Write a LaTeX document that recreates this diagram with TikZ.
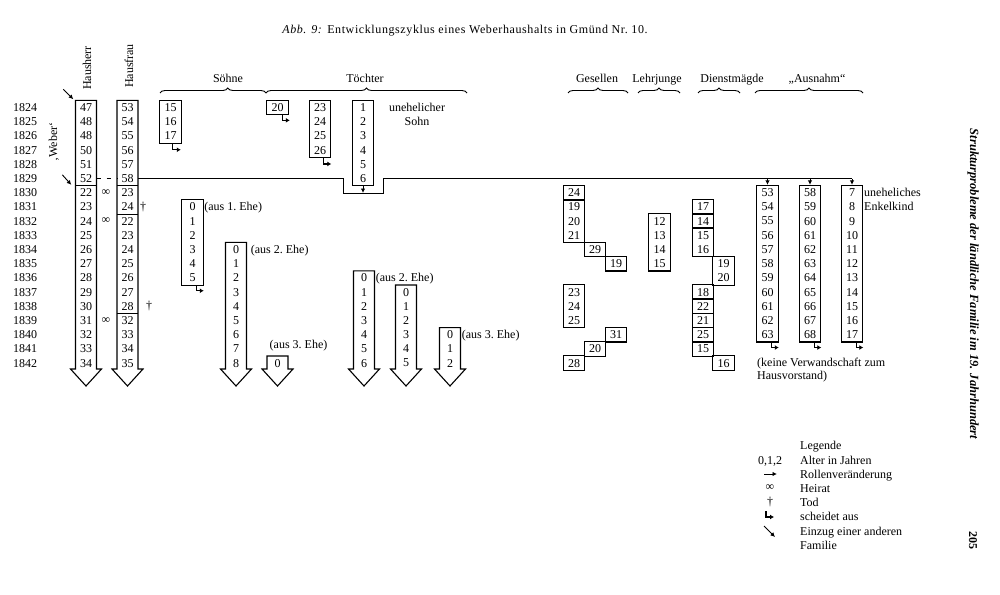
\documentclass[tikz,border=0pt]{standalone}
\usepackage{fontspec}
\setmainfont{Liberation Serif}
\usetikzlibrary{arrows.meta,calc,fit,decorations.pathreplacing}

% vertical position of the row of a year
\pgfmathdeclarefunction{yr}{1}{\pgfmathparse{107.5+14.2*(#1-1824)}}

% ages stacked in a closed box: name, x, first year, ages
\newcommand{\agebox}[4]{%
  \foreach \a [count=\k] in {#4}{%
    \node[age] (#1-\k) at (#2,{yr(#3+\k-1)}) {\a};
    \xdef\lastk{\k}}%
  \node[box, fit=(#1-1)(#1-\lastk)] (#1) {};}

% ages in an open column that runs on as an arrow
\newcommand{\agearrow}[4]{%
  \foreach \a [count=\k] in {#4}
    \node[age] (#1-\k) at (#2,{yr(#3+\k-1)}) {\a};
  \draw[col] ({#2-10.5},{yr(#3)-7.1}) -- ({#2-10.5},369) -- ({#2-15.5},369)
    -- (#2,386) -- ({#2+15.5},369) -- ({#2+10.5},369)
    -- ({#2+10.5},{yr(#3)-7.1}) -- cycle;}

\begin{document}
\begin{tikzpicture}[x=1pt, y=-1pt,
    font=\fontsize{12}{14.2}\selectfont,
    age/.style={minimum width=21pt, minimum height=14.2pt, inner sep=0pt},
    box/.style={draw, line width=1.1pt, inner sep=0pt},
    col/.style={line width=1.1pt},
    note/.style={anchor=base west, inner sep=0pt},
    head/.style={anchor=base, inner sep=0pt},
    group/.style={decorate, decoration={brace, amplitude=5pt}, line width=0.9pt},
    move/.style={-{Latex[length=4.5pt, width=4.5pt]}, line width=0.9pt},
    leave/.style={-{Latex[length=4pt, width=5pt]}, line width=1.1pt}
]
\useasboundingbox (0,0) rectangle (1000,594);

\node[head] (title) at (465,34) {\addfontfeature{LetterSpace=5}\textit{Abb. 9:} Entwicklungszyklus eines Weberhaushalts in Gmünd Nr.~10.};

% years
\foreach \y in {1824,...,1842}
  \node (y\y) at (25,{yr(\y)}) {\y};

% heads of household
\node[rotate=90] (hhlabel) at (87,68) {Hausherr};
\node[rotate=90] (hflabel) at (129,66) {Hausfrau};
\node[rotate=90] (weber) at (54,142) {‚Weber‘};

\agearrow{hh}{86}{1824}{47,48,48,50,51,52,22,23,24,25,26,27,28,29,30,31,32,33,34}
\agearrow{hf}{127.5}{1824}{53,54,55,56,57,58,23,24,22,23,24,25,26,27,28,32,33,34,35}
\draw[col] (hh-6.south west) -- (hh-6.south east);
\draw[col] (hf-6.south west) -- (hf-6.south east);
\draw[col] (hf-8.south west) -- (hf-8.south east);
\draw[col] (hf-15.south west) -- (hf-15.south east);

\node (m1) at (106,{yr(1830)}) {∞};
\node (m2) at (106,{yr(1832)}) {∞};
\node (m3) at (106,{yr(1839)}) {∞};
\node (d1) at (143,{yr(1831)}) {†};
\node (d2) at (149,{yr(1838)}) {†};

\draw[move] ($(hh-1.north west)+(-12,-11)$) -- ($(hh-1.north west)+(-2,-1)$);
\draw[move] ($(hh-6.south west)+(-13,-11)$) -- ($(hh-6.south west)+(-4,-1)$);

% sons and daughters
\node[head] (soehne) at (228,82) {Söhne};
\node[head] (toechter) at (365,82) {Töchter};
\draw[group, decoration={aspect=0.64}] (160,93) -- (266,93);
\draw[group] (266,93) -- (467,93);

\agebox{s1}{170.5}{1824}{15,16,17}
\agebox{t1}{277.5}{1824}{20}
\agebox{t2}{320}{1824}{23,24,25,26}
\agebox{t3}{363}{1824}{1,2,3,4,5,6}
\node[head] (t3a) at (417,{yr(1824)+4}) {unehelicher};
\node[head] (t3b) at (417,{yr(1825)+4}) {Sohn};

\agebox{s2}{192.5}{1831}{0,1,2,3,4,5}
\node[note] (s2n) at ($(s2-1.east)+(1,4)$) {(aus 1.~Ehe)};
\agearrow{s3}{236}{1834}{0,1,2,3,4,5,6,7,8}
\node[note] (s3n) at ($(s3-1.east)+(4,4)$) {(aus 2.~Ehe)};
\agearrow{s4}{277.5}{1842}{0}
\node[head] (s4n) at ($(s4-1.north)+(21,-7)$) {(aus 3.~Ehe)};

\agearrow{t4}{364}{1836}{0,1,2,3,4,5,6}
\node[note] (t4n) at ($(t4-1.east)+(1,4)$) {(aus 2.~Ehe)};
\agearrow{t5}{406}{1837}{0,1,2,3,4,5}
\agearrow{t6}{450}{1840}{0,1,2}
\node[note] (t6n) at ($(t6-1.east)+(1,4)$) {(aus 3.~Ehe)};

\draw[leave] ($(s1.south east)+(-9,0)$) |- ++(8,6);
\draw[leave] ($(t1.south east)+(-6,0)$) |- ++(7,5);
\draw[leave] ($(t2.south east)+(-8,0)$) |- ++(8,6);
\draw[leave] ($(s2.south east)+(-7,0)$) |- ++(7,5);

% servants
\node[head] (gesellen) at (597,82) {Gesellen};
\node[head] (lehrjunge) at (657,82) {Lehrjunge};
\node[head] (maegde) at (732,82) {Dienstmägde};
\node[head] (ausnahm) at (817,82) {„Ausnahm“};
\draw[group] (568,93) -- (628,93);
\draw[group] (638,93) -- (680,93);
\draw[group] (698,93) -- (740,93);
\draw[group, decoration={aspect=0.5}] (755,93) -- (863,93);

\agebox{g1}{574}{1830}{24}
\agebox{g2}{574}{1831}{19,20,21}
\agebox{g3}{595}{1834}{29}
\agebox{g4}{616}{1835}{19}
\agebox{g5}{574}{1837}{23,24,25}
\agebox{g6}{616}{1840}{31}
\agebox{g7}{595}{1841}{20}
\agebox{g8}{574}{1842}{28}

\agebox{l1}{659.5}{1832}{12,13,14,15}

\agebox{d1}{703}{1831}{17}
\agebox{d2}{703}{1832}{14}
\agebox{d3}{703}{1833}{15,16}
\agebox{d4}{723.5}{1835}{19,20}
\agebox{d5}{703}{1837}{18}
\agebox{d6}{703}{1838}{22}
\agebox{d7}{703}{1839}{21}
\agebox{d8}{703}{1840}{25}
\agebox{d9}{703}{1841}{15}
\agebox{d10}{723.5}{1842}{16}

% retired parents and grandchild
\agebox{a1}{767.5}{1830}{53,54,55,56,57,58,59,60,61,62,63}
\agebox{a2}{810}{1830}{58,59,60,61,62,63,64,65,66,67,68}
\agebox{a3}{852}{1830}{7,8,9,10,11,12,13,14,15,16,17}
\node[note] (a3a) at (864,{yr(1830)+4}) {uneheliches};
\node[note] (a3b) at (864,{yr(1831)+4}) {Enkelkind};
\node[note] (a1a) at (757,366) {(keine Verwandschaft zum};
\node[note] (a1b) at (757,379) {Hausvorstand)};
\draw[leave] ($(a1.south east)+(-7,0)$) |- ++(7,5);
\draw[leave] ($(a2.south east)+(-7,0)$) |- ++(7,5);
\draw[leave] ($(a3.south east)+(-7,0)$) |- ++(7,5);

% change of roles in 1829/30
\coordinate (dipL) at (343,193);
\coordinate (dipR) at (383,193);
\draw[dashed, dash pattern=on 4pt off 6pt, line width=0.9pt] (hh-6.east) -- (hf-6.west);
\draw[line width=0.9pt] (hf-6.east) -| (dipL) -- (dipR) |- (a3.north |- hf-6.east);
\draw[move] (t3.south) -- (t3.south |- dipL);
\draw[move] (a1.north |- hf-6.east) -- (a1.north);
\draw[move] (a2.north |- hf-6.east) -- (a2.north);
\draw[move] (a3.north |- hf-6.east) -- (a3.north);

% legend
\node[note] (leg) at (800,449) {Legende};
\node[head] (k1) at (770,464) {0,1,2};
\node[note] (k1t) at (800,464) {Alter in Jahren};
\coordinate (k2a) at (764,474);
\coordinate (k2b) at (777,474);
\draw[move] (k2a) -- (k2b);
\node[note] (k2t) at (800,478) {Rollenveränderung};
\node (k3) at (770,488) {∞};
\node[note] (k3t) at (800,492) {Heirat};
\node (k4) at (770,502) {†};
\node[note] (k4t) at (800,506) {Tod};
\coordinate (k5) at (766,511);
\draw[leave] (k5) |- ++(8,6);
\node[note] (k5t) at (800,520) {scheidet aus};
\coordinate (k6a) at (764,526);
\coordinate (k6b) at (775,537);
\draw[move] (k6a) -- (k6b);
\node[note] (k6t) at (800,535) {Einzug einer anderen};
\node[note] (k6u) at (800,549) {Familie};

% running head and page number
\node[rotate=-90, font=\fontsize{12.5}{15}\selectfont\bfseries\itshape] (runhead) at (973,284) {Strukturprobleme der ländliche Familie im 19. Jahrhundert};
\node[rotate=-90, font=\fontsize{12}{14}\selectfont\bfseries] (page) at (973,540) {205};
\end{tikzpicture}
\end{document}
